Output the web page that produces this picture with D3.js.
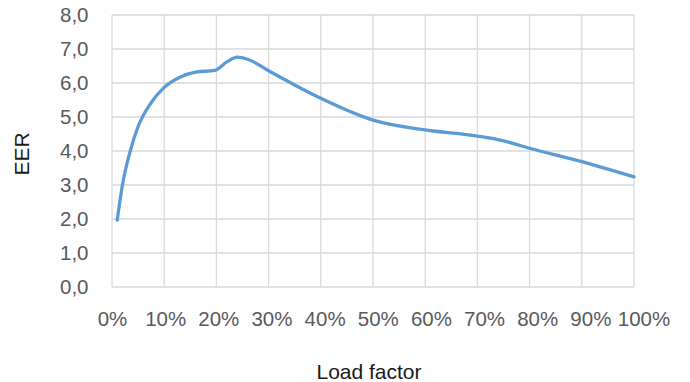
<!DOCTYPE html>
<html>
<head>
<meta charset="utf-8">
<script src="https://cdn.jsdelivr.net/npm/d3@7"></script>
<style>
  html, body { margin: 0; padding: 0; background: #fff; }
  svg { display: block; }
  text { font-family: "Liberation Sans", Arial, Helvetica, sans-serif; }
</style>
</head>
<body>
<svg id="chart" width="690" height="382"></svg>
<script>
// Load factor (%) and corresponding EER
const loadFactor = [1, 2, 3.5, 5, 7.5, 10, 13, 16, 19.7, 22, 24, 26, 30, 40, 50, 60, 70, 75, 80, 90, 100];
const eer        = [1.97, 3.0, 4.0, 4.72, 5.42, 5.87, 6.17, 6.32, 6.37, 6.62, 6.76, 6.70, 6.36, 5.55, 4.91, 4.62, 4.44, 4.30, 4.08, 3.69, 3.24];

const xTicks = [0, 10, 20, 30, 40, 50, 60, 70, 80, 90, 100];
const yTicks = [0, 1, 2, 3, 4, 5, 6, 7, 8];
const xTitle = "Load factor";
const yTitle = "EER";

const svg = d3.select("#chart");
const plotLeft = 112, plotRight = 634, plotTop = 15, plotBottom = 287;

const x = d3.scaleLinear().domain([0, 100]).range([plotLeft, plotRight]);
// category labels are laid out on a slightly wider band than the grid
const xLabel = d3.scaleLinear().domain([0, 100]).range([plotLeft + 0.5, plotRight + 10]);
const y = d3.scaleLinear().domain([0, 8]).range([plotBottom, plotTop]);

const comma = d3.formatLocale({ decimal: ",", thousands: ".", grouping: [3], currency: ["", ""] });
const fmtY = comma.format(".1f");
const fmtX = d => d + "%";

const gridColor = "#d9d9d9";
const labelColor = "#595959";
const tickFont = "20.5px";
const titleFont = "21px";

// horizontal gridlines
svg.append("g")
  .selectAll("line")
  .data(yTicks)
  .join("line")
  .attr("x1", plotLeft).attr("x2", plotRight)
  .attr("y1", d => y(d)).attr("y2", d => y(d))
  .attr("stroke", gridColor).attr("stroke-width", 1.3);

// vertical gridlines
svg.append("g")
  .selectAll("line")
  .data(xTicks)
  .join("line")
  .attr("x1", d => x(d)).attr("x2", d => x(d))
  .attr("y1", plotTop).attr("y2", plotBottom)
  .attr("stroke", gridColor).attr("stroke-width", 1.3);

// y tick labels
svg.append("g")
  .selectAll("text")
  .data(yTicks)
  .join("text")
  .attr("x", 88.5)
  .attr("y", d => y(d))
  .attr("dy", "0.35em")
  .attr("text-anchor", "end")
  .attr("fill", labelColor)
  .attr("font-size", tickFont)
  .text(fmtY);

// x tick labels
svg.append("g")
  .selectAll("text")
  .data(xTicks)
  .join("text")
  .attr("x", d => xLabel(d))
  .attr("y", 325.5)
  .attr("text-anchor", "middle")
  .attr("fill", labelColor)
  .attr("font-size", tickFont)
  .text(fmtX);

// axis titles
svg.append("text")
  .attr("x", 369).attr("y", 379)
  .attr("text-anchor", "middle")
  .attr("fill", "#1a1a1a")
  .attr("font-size", titleFont)
  .text(xTitle);

svg.append("text")
  .attr("transform", "translate(29,154) rotate(-90)")
  .attr("text-anchor", "middle")
  .attr("fill", "#1a1a1a")
  .attr("font-size", titleFont)
  .text(yTitle);

// EER curve
const pts = loadFactor.map((d, i) => [d, eer[i]]);
const line = d3.line()
  .x(d => x(d[0]))
  .y(d => y(d[1]))
  .curve(d3.curveMonotoneX);

svg.append("path")
  .datum(pts)
  .attr("d", line)
  .attr("fill", "none")
  .attr("stroke", "#5b9bd5")
  .attr("stroke-width", 3.3)
  .attr("stroke-linecap", "round")
  .attr("stroke-linejoin", "round");
</script>
</body>
</html>
